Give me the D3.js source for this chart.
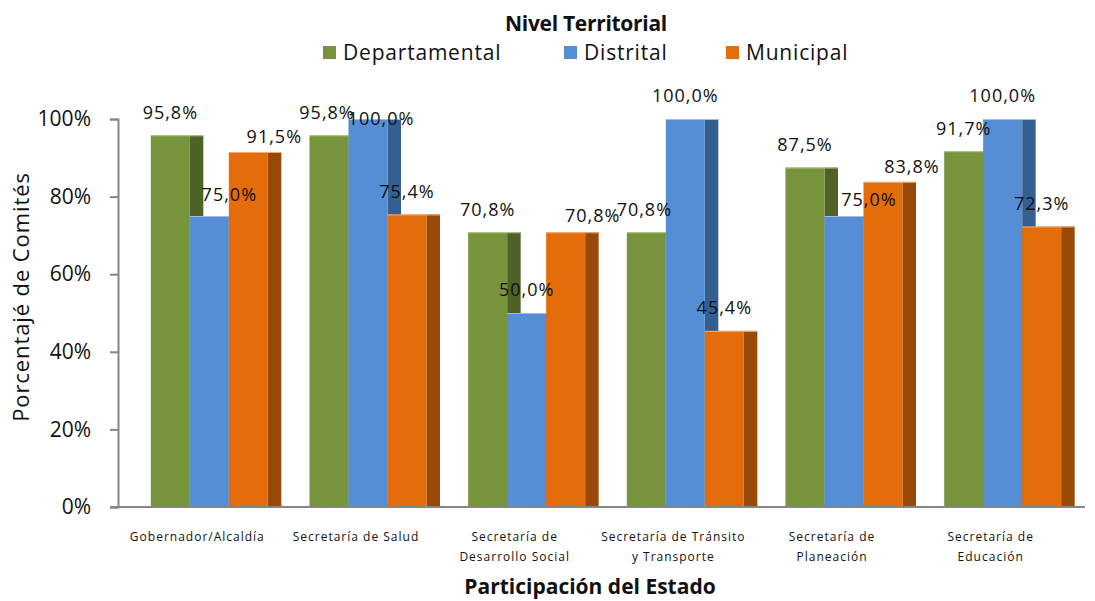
<!doctype html>
<html>

<head>
  <meta charset="utf-8">
  <title>Nivel Territorial</title>
  <style>
    body { margin: 0; background: #fff; }
    #chart { width: 1095px; height: 601px; }
    text { font-family: "Open Sans", sans-serif; fill: #111; }
  </style>
</head>

<body>
  <div id="chart"></div>
  <script src="https://d3js.org/d3.v7.min.js"></script>
  <script>
    const categories = [
      ['Gobernador/Alcaldía'],
      ['Secretaría de Salud'],
      ['Secretaría de', 'Desarrollo Social'],
      ['Secretaría de Tránsito', 'y Transporte'],
      ['Secretaría de', 'Planeación'],
      ['Secretaría de', 'Educación']
    ];
    const seriesNames = ['Departamental', 'Distrital', 'Municipal'];
    const departamental = [0.958, 0.958, 0.708, 0.708, 0.875, 0.917];
    const distrital = [0.75, 1.0, 0.5, 1.0, 0.75, 1.0];
    const municipal = [0.915, 0.754, 0.708, 0.454, 0.838, 0.723];
    const yTicks = [0, 0.2, 0.4, 0.6, 0.8, 1.0];

    const values = [departamental, distrital, municipal];
    const frontColors = ['#77933c', '#558ed5', '#e46c0a'];
    const sideColors = ['#4f6228', '#365f91', '#984807'];
    const topColors = ['#b3c98a', '#9dbde8', '#f2ae78'];

    // label nudges (dx, dy) where Excel moved the labels off the bar centre
    const labelNudge = [
      [[0, 0], [20, 2], [26, 8]],
      [[-2, 0], [13, 23], [0, 0]],
      [[0, 0], [0, 0], [27, 6]],
      [[-2, 0], [0, 0], [0, 0]],
      [[0, 0], [25, 7], [29, 8]],
      [[0, 0], [0, 0], [0, 0]]
    ];

    const width = 1095, height = 601;
    const svg = d3.select('#chart').append('svg')
      .attr('width', width)
      .attr('height', height);

    const plotLeft = 118, plotRight = 1070, plotTop = 119, plotBottom = 507;
    const depth = 13.5;      // visible side face of each column
    const shift = 12;        // 3d depth offset of the columns
    const groupW = 117;

    const catIdx = d3.range(categories.length);
    const x = d3.scaleBand().domain(catIdx).range([plotLeft, plotRight]).padding(0);
    const x1 = d3.scaleBand().domain(d3.range(seriesNames.length)).range([0, groupW]);
    const y = d3.scaleLinear().domain([0, 1]).range([plotBottom, plotTop]);

    const groupX = i => x(i) + (x.bandwidth() - groupW) / 2 + shift;

    // columns
    const groups = svg.append('g').selectAll('g')
      .data(catIdx)
      .join('g')
      .attr('transform', i => `translate(${groupX(i)},0)`);

    seriesNames.forEach((s, k) => {
      groups.append('rect')
        .attr('x', x1(k) + x1.bandwidth())
        .attr('y', i => y(values[k][i]))
        .attr('width', depth)
        .attr('height', i => plotBottom - y(values[k][i]))
        .attr('fill', sideColors[k]);
      groups.append('rect')
        .attr('x', x1(k))
        .attr('y', i => y(values[k][i]))
        .attr('width', x1.bandwidth())
        .attr('height', i => plotBottom - y(values[k][i]))
        .attr('fill', frontColors[k]);
      groups.append('line')
        .attr('x1', x1(k))
        .attr('x2', x1(k) + x1.bandwidth() + depth)
        .attr('y1', i => y(values[k][i]) + 0.5)
        .attr('y2', i => y(values[k][i]) + 0.5)
        .attr('stroke', topColors[k])
        .attr('stroke-width', 1);
    });

    // axes
    const yAxis = svg.append('g')
      .attr('transform', `translate(${plotLeft},0)`)
      .call(d3.axisLeft(y).tickValues(yTicks).tickSize(8).tickPadding(19)
        .tickFormat(d3.format('.0%')));
    yAxis.select('.domain').attr('stroke', '#868686').attr('stroke-width', 2);
    yAxis.selectAll('.tick line').attr('stroke', '#868686').attr('stroke-width', 2);
    yAxis.selectAll('.tick text')
      .style('font-size', '21px')
      .style('font-family', '"Open Sans", sans-serif')
      .attr('fill', '#222');

    svg.append('line')
      .attr('x1', plotLeft - 8).attr('x2', 1085)
      .attr('y1', plotBottom).attr('y2', plotBottom)
      .attr('stroke', '#868686').attr('stroke-width', 2);

    // category labels
    const catLabels = svg.append('g').selectAll('text')
      .data(catIdx)
      .join('text')
      .attr('x', i => x(i) + x.bandwidth() / 2)
      .attr('y', 541)
      .attr('text-anchor', 'middle')
      .style('font-size', '12px')
      .style('letter-spacing', '1px');
    catLabels.selectAll('tspan')
      .data(i => categories[i])
      .join('tspan')
      .attr('x', function () { return d3.select(this.parentNode).attr('x'); })
      .attr('dy', (d, j) => j === 0 ? 0 : 20)
      .text(d => d);

    // data labels
    const fmt = v => d3.format('.1f')(v * 100).replace('.', ',') + '%';
    seriesNames.forEach((s, k) => {
      groups.append('text')
        .attr('x', i => x1(k) + x1.bandwidth() / 2 + labelNudge[i][k][0])
        .attr('y', i => y(values[k][i]) - 23 + labelNudge[i][k][1])
        .attr('dy', '0.35em')
        .attr('text-anchor', 'middle')
        .style('font-size', '18px')
        .style('letter-spacing', '1px')
        .text(i => fmt(values[k][i]));
    });

    // axis titles
    svg.append('text')
      .attr('transform', 'translate(29,297) rotate(-90)')
      .attr('text-anchor', 'middle')
      .style('font-size', '22px')
      .style('letter-spacing', '0.9px')
      .text('Porcentajé de Comités');

    svg.append('text')
      .attr('x', 590).attr('y', 594)
      .attr('text-anchor', 'middle')
      .style('font-size', '21px')
      .style('font-weight', 'bold')
      .text('Participación del Estado');

    // legend
    svg.append('text')
      .attr('x', 586).attr('y', 31)
      .attr('text-anchor', 'middle')
      .style('font-size', '21px')
      .style('font-weight', 'bold')
      .style('letter-spacing', '-0.3px')
      .text('Nivel Territorial');

    const legendX = [323, 564, 726];
    const legend = svg.append('g').selectAll('g')
      .data(seriesNames)
      .join('g')
      .attr('transform', (d, k) => `translate(${legendX[k]},46)`);
    legend.append('rect')
      .attr('width', 13).attr('height', 13)
      .attr('fill', (d, k) => frontColors[k]);
    legend.append('text')
      .attr('x', 20).attr('y', 14)
      .style('font-size', '21px')
      .style('letter-spacing', '0.8px')
      .text(d => d);
  </script>
</body>

</html>
